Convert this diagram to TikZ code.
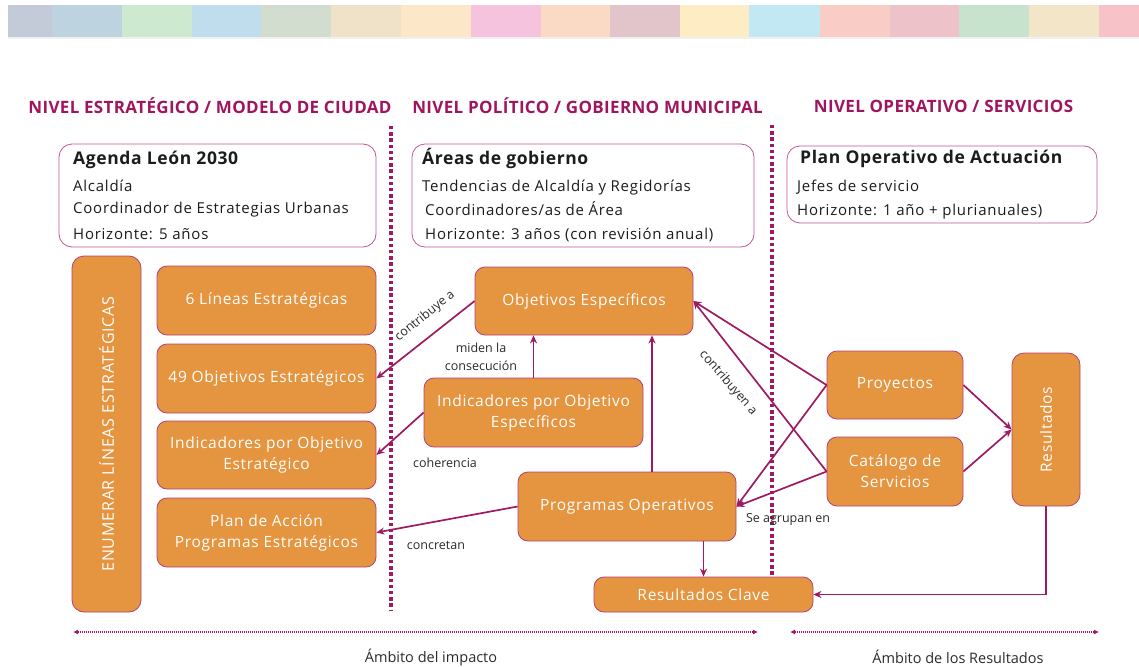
\documentclass[tikz,border=0pt]{standalone}
\usepackage{fontspec}
\setmainfont{Open Sans}
\newfontfamily\fhdr[LetterSpace=2]{Open Sans}
\newfontfamily\fttl[LetterSpace=3.5]{Open Sans}
\newfontfamily\fbody[LetterSpace=5]{Open Sans}
\newfontfamily\forg[LetterSpace=4.5]{Open Sans}
\newfontfamily\fenum[LetterSpace=5]{Open Sans}
\usetikzlibrary{arrows.meta,calc}
\definecolor{mag}{HTML}{9E1A62}
\definecolor{hdr}{HTML}{A0155F}
\definecolor{org}{HTML}{E5943F}
\definecolor{obord}{HTML}{B5417A}
\definecolor{wbord}{HTML}{C4559A}
\definecolor{txt}{HTML}{1C1C1C}
\definecolor{lbltxt}{HTML}{2A2A2A}
\begin{document}
\begin{tikzpicture}[x=1pt,y=-1pt,
  obox/.style={draw=obord,line width=0.8pt,fill=org,rounded corners=10pt,text=white,font=\forg\fontsize{15.5}{21}\selectfont,align=center,inner sep=0pt},
  wbox/.style={draw=wbord,line width=0.8pt,fill=white,rounded corners=13pt,inner sep=0pt},
  hdrtxt/.style={text=hdr,inner sep=0pt,font=\fhdr\fontsize{17}{20}\selectfont\bfseries},
  ttl/.style={anchor=base west,inner sep=0pt,text=txt,font=\fttl\fontsize{17.5}{21}\selectfont\bfseries},
  body/.style={anchor=base west,inner sep=0pt,text=txt,font=\fbody\fontsize{15}{18}\selectfont},
  conn/.style={draw=mag,line width=1.7pt,-{Stealth[length=8pt,width=7pt]}},
  lbl/.style={text=lbltxt,font=\fontsize{12.5}{18}\selectfont,inner sep=0pt,align=center},
  bot/.style={text=lbltxt,font=\fontsize{14.5}{18}\selectfont,inner sep=0pt},
  vdots/.style={draw=mag,line width=3.6pt,dash pattern=on 3.3pt off 2.9pt},
  hdots/.style={draw=mag,line width=1.4pt,dash pattern=on 1pt off 1pt,{Latex[length=5pt,width=5pt]}-{Latex[length=5pt,width=5pt]}}
]
\useasboundingbox (0,0) rectangle (1139,666);
% colour bar
\foreach \x/\w/\c in {8/44/C3CAD8,52/70/BED3E0,122/70/CDE9CF,192/69/BFDDED,261/70/D2DCCF,331/70/F0E2C8,401/70/FDE7C9,471/70/F5C3DD,541/69/FBDAC5,610/70/E2C4CB,680/69/FDECC4,749/71/C2E8F4,820/70/F9CDC6,890/69/EDC3C9,959/70/C8E3CD,1029/70/F3E5C8,1099/40/F8C3C8}{
  \definecolor{tmpc}{HTML}{\c}
  \fill[tmpc] (\x,5) rectangle ++(\w,32);
}
\fill[black!6] (8,37) rectangle (1139,39);
% headers
\node[hdrtxt] (h1) at (210,106) {NIVEL ESTRATÉGICO / MODELO DE CIUDAD};
\node[hdrtxt] (h2) at (587.5,106) {NIVEL POLÍTICO / GOBIERNO MUNICIPAL};
\node[hdrtxt] (h3) at (943.5,106) {NIVEL OPERATIVO / SERVICIOS};
% dotted separators
\draw[vdots] (391,126) -- (391,611);
\draw[vdots] (772,125) -- (772,576);
% white boxes
\node[wbox,minimum width=317pt,minimum height=103pt] (wb1) at (217.5,195.5) {};
\node[wbox,minimum width=342pt,minimum height=103pt] (wb2) at (583,195.5) {};
\node[wbox,minimum width=310pt,minimum height=77pt] (wb3) at (942,184.5) {};
\node[ttl] (t1) at (73,164) {Agenda León 2030};
\node[body] (t1a) at (73,191.7) {Alcaldía};
\node[body] (t1b) at (73,213.3) {Coordinador de Estrategias Urbanas};
\node[body] (t1c) at (73,239.3) {Horizonte: 5 años};
\node[ttl] (t2) at (422,164) {Áreas de gobierno};
\node[body] (t2a) at (422,191.7) {Tendencias de Alcaldía y Regidorías};
\node[body] (t2b) at (425,215) {Coordinadores/as de Área};
\node[body] (t2c) at (425,239.3) {Horizonte: 3 años (con revisión anual)};
\node[ttl] (t3) at (800,163) {Plan Operativo de Actuación};
\node[body] (t3a) at (797,191.7) {Jefes de servicio};
\node[body] (t3b) at (797,215) {Horizonte: 1 año + plurianuales)};
% orange boxes
\node[obox,rounded corners=12pt,minimum width=69pt,minimum height=356pt,font=\fenum\fontsize{16}{21}\selectfont] (enum) at (106.5,434) {\rotatebox{90}{ENUMERAR LÍNEAS ESTRATÉGICAS}};
\node[obox,minimum width=219pt,minimum height=69pt] (lin) at (266.5,300.5) {6 Líneas Estratégicas};
\node[obox,minimum width=219pt,minimum height=69pt] (obj49) at (266.5,378.5) {49 Objetivos Estratégicos};
\node[obox,minimum width=219pt,minimum height=68pt] (indest) at (266.5,455) {Indicadores por Objetivo\\Estratégico};
\node[obox,minimum width=219pt,minimum height=69pt] (plan) at (266.5,532.5) {Plan de Acción\\Programas Estratégicos};
\node[obox,minimum width=218pt,minimum height=68pt] (objesp) at (584,301) {Objetivos Específicos};
\node[obox,minimum width=219pt,minimum height=69pt] (indesp) at (533.5,412.5) {Indicadores por Objetivo\\Específicos};
\node[obox,minimum width=218pt,minimum height=69pt] (progop) at (627,506.5) {Programas Operativos};
\node[obox,minimum width=219pt,minimum height=35pt] (reskey) at (703.5,594.5) {Resultados Clave};
\node[obox,minimum width=136pt,minimum height=68pt] (proy) at (895,385) {Proyectos};
\node[obox,minimum width=136pt,minimum height=69pt] (cat) at (895,471.5) {Catálogo de\\Servicios};
\node[obox,rounded corners=12pt,minimum width=68pt,minimum height=153pt] (res) at (1046,429.5) {\rotatebox{90}{Resultados}};
% connectors
\draw[conn] (objesp.west) -- (obj49.east);
\draw[conn] (indesp.west) -- (indest.east);
\draw[conn] (progop.west) -- (plan.east);
\draw[conn] (indesp.north) -- (indesp.north |- objesp.south);
\coordinate (pu) at ($(progop.north)+(25,0)$);
\draw[conn] (pu) -- (pu |- objesp.south);
\draw[conn] (reskey.north |- progop.south) -- (reskey.north);
\draw[conn] (res.south) |- (reskey.east);
\draw[conn] (proy.east) -- (res.west);
\draw[conn] (cat.east) -- (res.west);
\draw[conn] (proy.west) -- (objesp.east);
\draw[conn] (cat.west) -- (objesp.east);
\draw[conn] (proy.west) -- (progop.east);
\draw[conn] (cat.west) -- (progop.east);
% labels
\node[lbl,rotate=39] (l1) at (425,316) {contribuye a};
\node[lbl] (l2) at (481,357) {miden la\\consecución};
\node[lbl] (l3) at (445,463) {coherencia};
\node[lbl] (l4) at (436,545) {concretan};
\node[lbl] (l5) at (788,519) {Se agrupan en};
\node[lbl,rotate=-49] (l6) at (728,383) {contribuyen a};
% bottom scopes
\coordinate (a1) at (73,632); \coordinate (a2) at (758,632);
\coordinate (a3) at (790,632); \coordinate (a4) at (1099,632);
\draw[hdots] (a1) -- (a2);
\draw[hdots] (a3) -- (a4);
\node[bot] (b1) at (431,657) {Ámbito del impacto};
\node[bot] (b2) at (958,657) {Ámbito de los Resultados};
\end{tikzpicture}
\end{document}
